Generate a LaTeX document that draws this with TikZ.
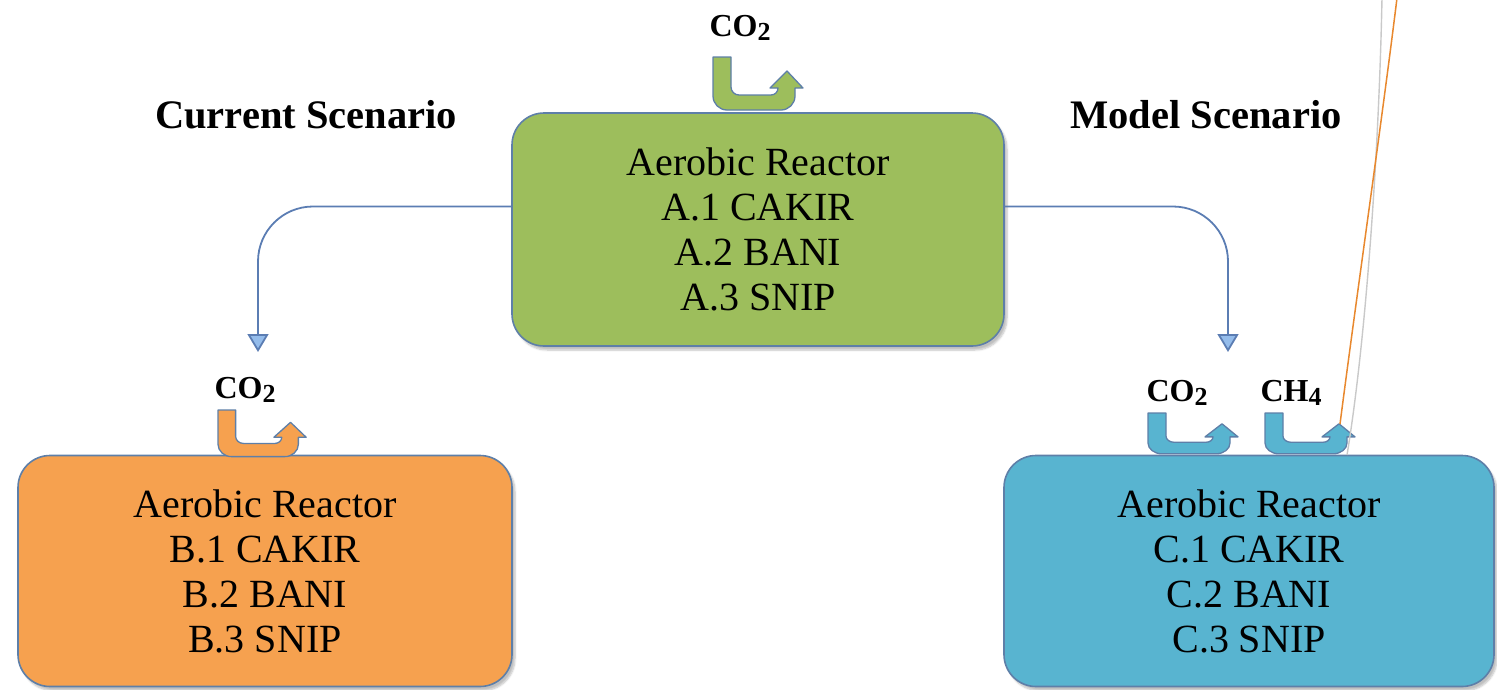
\documentclass[tikz,border=0pt]{standalone}
\usepackage{fontspec}
\setmainfont{Liberation Serif}
\usetikzlibrary{arrows.meta,shadows.blur}
\definecolor{greenbox}{HTML}{9DBE5C}
\definecolor{orangebox}{HTML}{F6A14F}
\definecolor{bluebox}{HTML}{58B4D0}
\definecolor{edgeblue}{HTML}{5E7FA8}
\definecolor{connblue}{HTML}{5B7DB3}
\definecolor{tipfill}{HTML}{94BCEB}
\definecolor{strayorange}{HTML}{E8882E}
\definecolor{straygray}{HTML}{C9C9C9}
\newcommand\sbs[1]{\raisebox{-4pt}{\fontsize{26}{26}\selectfont #1}}
\tikzset{
  box/.style={draw=edgeblue, line width=1.6pt, rounded corners=32pt, align=center,
    font=\fontsize{40}{45}\selectfont, inner sep=0pt,
    blur shadow={shadow xshift=3pt, shadow yshift=-4pt, shadow blur steps=6, shadow opacity=25}},
  gas/.style={font=\bfseries\fontsize{32}{34}\selectfont, inner sep=0pt},
  title/.style={font=\bfseries\fontsize{40.5}{42}\selectfont, inner sep=0pt},
  conn/.style={draw=connblue, line width=1.8pt, rounded corners=55pt,
    -{Triangle[width=21pt,length=18pt,fill=tipfill]}},
  uarrow/.pic={
    \filldraw[fill=#1, draw=edgeblue, line width=1.3pt, line join=round]
      (0,0) -- (18,0) -- (18,30)
      .. controls (18,34.4) and (21.6,38) .. (26,38)
      -- (58,38) .. controls (61.9,38) and (65,34.9) .. (65,31)
      -- (57,31) -- (74,14) -- (90,31) -- (82,31) -- (82,39)
      .. controls (82,46.7) and (75.7,53) .. (68,53)
      -- (14,53) .. controls (6.3,53) and (0,46.7) .. (0,39)
      -- cycle;
  }
}
\begin{document}
\begin{tikzpicture}[x=1pt,y=-1pt]
\useasboundingbox (0,0) rectangle (1497,689);
\clip (0,0) rectangle (1497,689);

% boxes
\node[box, fill=greenbox, minimum width=492pt, minimum height=233pt] (A) at (758,229.5)
  {Aerobic Reactor\\A.1 CAKIR\\A.2 BANI\\A.3 SNIP};
\node[box, fill=orangebox, minimum width=494pt, minimum height=231pt] (B) at (265,571)
  {Aerobic Reactor\\B.1 CAKIR\\B.2 BANI\\B.3 SNIP};
\node[box, fill=bluebox, minimum width=490pt, minimum height=231pt] (C) at (1249,571)
  {Aerobic Reactor\\C.1 CAKIR\\C.2 BANI\\C.3 SNIP};

% titles
\node[title] (cur) at (306,115) {Current Scenario};
\node[title] (mod) at (1206,115) {Model Scenario};

% gas labels
\node[gas] (gA) at (740,28) {CO\sbs{2}};
\node[gas] (gB) at (245,390) {CO\sbs{2}};
\node[gas] (gC1) at (1177,393) {CO\sbs{2}};
\node[gas] (gC2) at (1291,393) {CH\sbs{4}};

% U-turn arrows
\pic at (713,57) {uarrow=greenbox};
\pic[yscale=0.88, xscale=0.98] at (218,410) {uarrow=orangebox};
\pic[yscale=0.77] at (1148,413) {uarrow=bluebox};
\pic[yscale=0.77] at (1265,413) {uarrow=bluebox};

% connectors
\coordinate (tB) at (258,352);
\coordinate (tC) at (1228,352);
\draw[conn] ([yshift=23pt]A.west) -| (tB);
\draw[conn] ([yshift=23pt]A.east) -| (tC);

% stray lines
\coordinate (o1) at (1340,424);
\coordinate (o2) at (1397,-2);
\coordinate (g1) at (1347,455);
\coordinate (g2) at (1382,-2);
\draw[straygray, line width=1.4pt] (g1) .. controls (1366,340) and (1379,150) .. (g2);
\draw[strayorange, line width=1.5pt] (o1) .. controls (1356,300) and (1382,120) .. (o2);
\end{tikzpicture}
\end{document}
